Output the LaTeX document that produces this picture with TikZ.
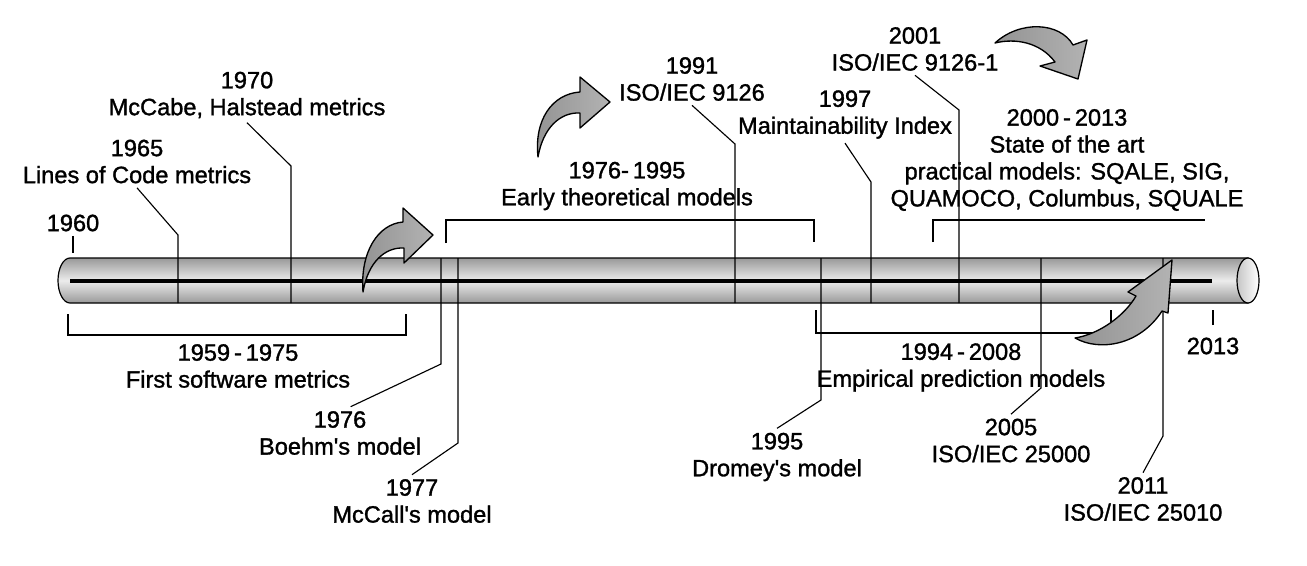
\documentclass[tikz,border=0pt]{standalone}
\usepackage{fontspec}
\setmainfont[BoldFont=Liberation Sans, BoldFeatures={FakeBold=1.3}]{Liberation Sans}

\tikzset{every picture/.style={line width=0.75pt}}
\tikzset{
  lbl/.style={align=center, inner sep=3pt, font=\fontsize{17.7}{20.2}\selectfont\bfseries},
  leader/.style={line width=0.85pt, color=black},
  bracket/.style={line width=1.2pt},
  bentarrow/.style={draw=black, line width=1pt, line join=round, left color=gray!85, right color=gray!60},
}
\newcommand{\sq}{\textquotesingle}

\begin{document}
\begin{tikzpicture}[x=0.75pt,y=0.75pt,yscale=-1,xscale=1]
    \useasboundingbox (0,0) rectangle (1307,565);

    %Shape: Can body
    \draw  [line width=0.9pt, shading=axis, top color=gray!80, bottom color=gray!80, middle color=gray!15] (70,258) -- (1248,258) -- (1248,303) -- (70,303) .. controls (63.37,303) and (58,292.93) .. (58,280.5) .. controls (58,268.07) and (63.37,258) .. (70,258) -- cycle ;
    %Shape: Can end
    \draw  [line width=0.9pt, left color=gray!45, right color=white] (1237,280.5) .. controls (1237,268.07) and (1241.92,258) .. (1248,258) .. controls (1254.08,258) and (1259,268.07) .. (1259,280.5) .. controls (1259,292.93) and (1254.08,303) .. (1248,303) .. controls (1241.92,303) and (1237,292.93) .. (1237,280.5) -- cycle ;
    %Straight Lines: axis
    \draw  [line width=2.4pt]  (70,281) -- (1212,281) ;

    % Text Node
    \node [lbl] (lab1960) at (73,223) {1960};
    \node [lbl] (lab1965) at (137,161.5) {1965\\Lines of Code metrics};
    \node [lbl] (lab1970) at (247,95) {1970\\McCabe, Halstead metrics};
    \node [lbl] (lab1959) at (238,366) {1959\,-\,1975\\First software metrics};
    \node [lbl] (lab1976) at (340,433) {1976\\Boehm\sq s model};
    \node [lbl] (lab1977) at (412,501) {1977\\McCall\sq s model};
    \node [lbl] (labEarly) at (627,186) {1976-\,1995\\Early theoretical models};
    \node [lbl] (lab1991) at (692,79) {1991\\ISO/IEC 9126};
    \node [lbl] (lab1997) at (845,114.5) {1997\\Maintainability Index};
    \node [lbl] (lab2001) at (915,49) {2001\\ISO/IEC 9126-1};
    \node [lbl] (labArt) at (1067,160) {2000\,-\,2013\\State of the art\\practical models: SQALE, SIG,\\QUAMOCO, Columbus, SQUALE};
    \node [lbl] (labEmp) at (961,367.5) {1994\,-\,2008\\Empirical prediction models};
    \node [lbl] (lab1995) at (777,457) {1995\\Dromey\sq s model};
    \node [lbl] (lab2005) at (1011,440.5) {2005\\ISO/IEC 25000};
    \node [lbl] (lab2011) at (1143,499) {2011\\ISO/IEC 25010};
    \node [lbl] (lab2013) at (1213,346) {2013};

    %Coordinates on the can
    \coordinate (t1960) at (73,253);
    \coordinate (t2013) at (1213,310);
    \coordinate (b1965) at (178,235);   \coordinate (e1965) at (178,303);
    \coordinate (b1970) at (291,166);   \coordinate (e1970) at (291,303);
    \coordinate (e1976) at (441,258);   \coordinate (b1976) at (441,364);
    \coordinate (e1977) at (458,258);   \coordinate (b1977) at (458,443);
    \coordinate (b1991) at (735,144);   \coordinate (e1991) at (735,303);
    \coordinate (e1995) at (821,258);   \coordinate (b1995) at (821,400);
    \coordinate (b1997) at (871,182);   \coordinate (e1997) at (871,303);
    \coordinate (b2001) at (959,110);   \coordinate (e2001) at (959,303);
    \coordinate (e2005) at (1041,258);  \coordinate (b2005) at (1041,388);
    \coordinate (e2011) at (1163,258);  \coordinate (b2011) at (1163,436);

    %Straight Lines: leaders
    \draw  [leader]  (lab1960.south) -- (t1960) ;
    \draw  [leader]  ([yshift=-6pt]lab2013.north) -- (t2013) ;
    \draw  [leader]  (lab1965.south) -- (b1965) -- (e1965) ;
    \draw  [leader]  (lab1970.south) -- (b1970) -- (e1970) ;
    \draw  [leader]  (e1976) -- (b1976) -- ([xshift=8pt]lab1976.north) ;
    \draw  [leader]  (e1977) -- (b1977) -- (lab1977.north) ;
    \draw  [leader]  (lab1991.south) -- (b1991) -- (e1991) ;
    \draw  [leader]  (e1995) -- (b1995) -- (lab1995.north) ;
    \draw  [leader]  (lab1997.south) -- (b1997) -- (e1997) ;
    \draw  [leader]  (lab2001.south) -- (b2001) -- (e2001) ;
    \draw  [leader]  (e2005) -- (b2005) -- (lab2005.north) ;
    \draw  [leader]  (e2011) -- (b2011) -- (lab2011.north) ;

    %Straight Lines: brackets
    \draw  [bracket]  (68,314) -- (68,335) -- (406,335) -- (406,314) ;
    \draw  [bracket]  (446,243) -- (446,220) -- (814,220) -- (814,242) ;
    \draw  [bracket]  (816,310) -- (816,333) -- (1111,333) -- (1111,310) ;
    \draw  [bracket]  (933,242) -- (933,220) -- (1205,220) ;

    %Shape: Curved Arrow
    \draw  [bentarrow] (363,292) .. controls (360,252) and (378,224) .. (403,222) -- (403,208) -- (433,235) -- (404,263) -- (404,248) .. controls (385,247) and (368,262) .. (363,292) -- cycle ;
    %Shape: Curved Arrow
    \draw  [bentarrow] (538,157) .. controls (534,120) and (552,94) .. (580,92) -- (580,77) -- (610,102) -- (580,128) -- (580,113) .. controls (560,112) and (543,128) .. (538,157) -- cycle ;
    %Shape: Curved Arrow
    \draw  [bentarrow] (995,43) .. controls (1020,20) and (1060,22) .. (1073,45) -- (1087,40) -- (1078,79) -- (1040,66) -- (1055,62) .. controls (1040,42) and (1015,38) .. (995,43) -- cycle ;
    %Shape: Curved Arrow
    \draw  [bentarrow] (1075,338) .. controls (1100,334) and (1125,315) .. (1136,296) -- (1128,292) -- (1172,260) -- (1168,313) -- (1162,311) .. controls (1140,345) and (1100,352) .. (1075,338) -- cycle ;
\end{tikzpicture}
\end{document}
